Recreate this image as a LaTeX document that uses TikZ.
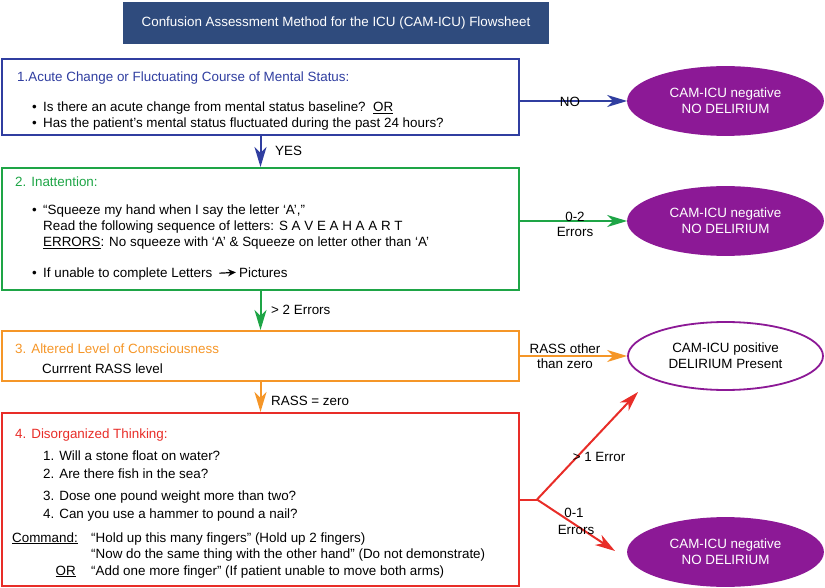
\documentclass[tikz,border=0pt]{standalone}
\usepackage{fontspec}
\setmainfont{Liberation Sans}
\usetikzlibrary{arrows.meta,shapes.geometric}
\definecolor{ctitle}{RGB}{47,75,125}
\definecolor{cblue}{RGB}{48,62,160}
\definecolor{cgreen}{RGB}{30,165,70}
\definecolor{corange}{RGB}{245,150,40}
\definecolor{cred}{RGB}{232,45,40}
\definecolor{cpurple}{RGB}{140,25,150}
\newcommand\myfs{\fontsize{13.4}{16}\selectfont}
\begin{document}
\begin{tikzpicture}[x=1pt,y=-1pt,
  txt/.style={anchor=base west, inner sep=0pt, font=\myfs},
  lab/.style={anchor=base, inner sep=0pt, font=\myfs},
  box/.style={draw, line width=2pt, rectangle, inner sep=0pt},
  arr/.style={line width=2pt, -{Stealth[length=20pt,width=12pt,inset=6pt]}},
  ell/.style={ellipse, draw=cpurple, line width=1.8pt, minimum width=195pt, minimum height=68pt, inner sep=0pt, align=center, font=\myfs},
  fell/.style={ell, fill=cpurple, text=white}]
\useasboundingbox (0,0) rectangle (825,588);

% title
\node[fill=ctitle, minimum width=426pt, minimum height=42pt, inner sep=0pt, text=white, font=\myfs] (title) at (336,23) {Confusion Assessment Method for the ICU (CAM-ICU) Flowsheet};

% boxes
\node[box, draw=cblue, minimum width=517pt, minimum height=76pt] (b1) at (260.5,97) {};
\node[box, draw=cgreen, minimum width=517pt, minimum height=122pt] (b2) at (260.5,229) {};
\node[box, draw=corange, minimum width=517pt, minimum height=50pt] (b3) at (260.5,356) {};
\node[box, draw=cred, minimum width=517pt, minimum height=173pt] (b4) at (260.5,499.5) {};

% ellipses
\node[fell] (e1) at (725.5,101) {CAM-ICU negative\\NO DELIRIUM};
\node[fell] (e2) at (725.5,221) {CAM-ICU negative\\NO DELIRIUM};
\node[ell, fill=white] (e3) at (725.5,356) {CAM-ICU positive\\DELIRIUM Present};
\node[fell] (e4) at (725.5,552) {CAM-ICU negative\\NO DELIRIUM};

% box 1 text
\node[txt, text=cblue] (t1) at (17,82) {1.Acute Change or Fluctuating Course of Mental Status:};
\node[txt] (b1a) at (32,112) {\textbullet};
\node[txt] (t1a) at (43,112) {Is there an acute change from mental status baseline?\ \ \underline{OR}};
\node[txt] (b1b) at (32,128) {\textbullet};
\node[txt] (t1b) at (43,128) {Has the patient’s mental status fluctuated during the past 24 hours?};

% box 2 text
\node[txt, text=cgreen] (t2) at (15,187) {2. Inattention:};
\node[txt] (b2a) at (32,215) {\textbullet};
\node[txt] (t2a) at (43,215) {“Squeeze my hand when I say the letter ‘A’,”};
\node[txt] (t2b) at (43,231) {Read the following sequence of letters: S A V E A H A A R T};
\node[txt] (t2c) at (43,247) {\underline{ERRORS}: No squeeze with ‘A’ \& Squeeze on letter other than ‘A’};
\node[txt] (b2d) at (32,277) {\textbullet};
\node[txt] (t2d) at (43,277) {If unable to complete Letters};
\node[txt] (t2e) at (239,277) {Pictures};
\draw[line width=1.2pt, -{Stealth[length=8pt,width=7pt]}, shorten <=7pt, shorten >=3pt] (t2d.east) -- (t2e.west);

% box 3 text
\node[txt, text=corange] (t3) at (15,353) {3. Altered Level of Consciousness};
\node[txt] (t3a) at (42,373) {Currrent RASS level};

% box 4 text
\node[txt, text=cred] (t4) at (15,438) {4. Disorganized Thinking:};
\node[txt] (t4a) at (43,460) {1. Will a stone float on water?};
\node[txt] (t4b) at (43,478) {2. Are there fish in the sea?};
\node[txt] (t4c) at (43,500) {3. Dose one pound weight more than two?};
\node[txt] (t4d) at (43,518) {4. Can you use a hammer to pound a nail?};
\node[txt] (c4) at (12,542) {\underline{Command:}};
\node[txt] (t4e) at (91,542) {“Hold up this many fingers” (Hold up 2 fingers)};
\node[txt] (t4f) at (91,558) {“Now do the same thing with the other hand” (Do not demonstrate)};
\node[anchor=base east, inner sep=0pt, font=\myfs] (or4) at (76,575) {\underline{OR}};
\node[txt] (t4g) at (91,575) {“Add one more finger” (If patient unable to move both arms)};

% vertical connectors
\draw[arr, cblue] (b1.south) -- (b2.north);
\node[txt] (yes) at (275,156) {YES};
\draw[arr, cgreen] (b2.south) -- (b3.north);
\node[txt] (err2) at (271,314) {> 2 Errors};
\draw[arr, corange] (b3.south) -- (b4.north);
\node[txt] (rz) at (271,405) {RASS = zero};

% horizontal connectors
\draw[arr, cblue] (b1.east |- e1.west) -- (e1.west);
\node[lab] (no) at (570,107) {NO};
\draw[arr, cgreen] (b2.east |- e2.west) -- (e2.west);
\node[lab] (l02a) at (575,222) {0-2};
\node[lab] (l02b) at (575,237) {Errors};
\draw[arr, corange] (b3.east |- e3.west) -- (e3.west);
\node[lab] (lra) at (565,353) {RASS other};
\node[lab] (lrb) at (565,368) {than zero};

% red branch
\coordinate (br) at (537,499.5);
\coordinate (tip1) at (638,392);
\coordinate (tip2) at (615,551);
\draw[cred, line width=2pt] (b4.east |- br) -- (br);
\draw[arr, cred] (br) -- (tip1);
\draw[arr, cred] (br) -- (tip2);
\node[lab] (l1) at (599,461) {> 1 Error};
\node[lab] (l01a) at (574,517) {0-1};
\node[lab] (l01b) at (576,534) {Errors};
\end{tikzpicture}
\end{document}
